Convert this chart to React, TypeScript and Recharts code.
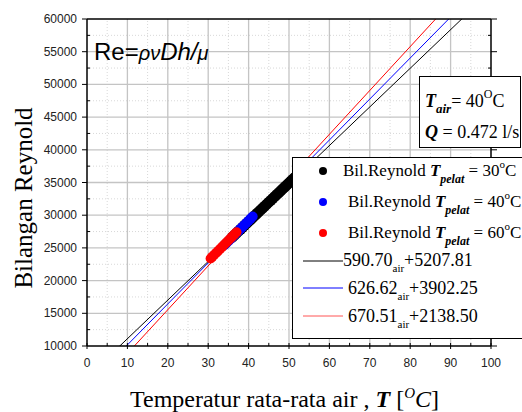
import React from "react";
import { ComposedChart, Scatter, Line, XAxis, YAxis, ReferenceLine } from "recharts";

const xTicks = [0, 5, 10, 15, 20, 25, 30, 35, 40, 45, 50, 55, 60, 65, 70, 75, 80, 85, 90, 95, 100];
const yTicks = [
  10000, 12500, 15000, 17500, 20000, 22500, 25000, 27500, 30000, 32500, 35000,
  37500, 40000, 42500, 45000, 47500, 50000, 52500, 55000, 57500, 60000,
];
const xGridMajor = [10, 20, 30, 40, 50, 60, 70, 80, 90];
const xGridMinor = [5, 15, 25, 35, 45, 55, 65, 75, 85, 95];
const yGridMajor = [15000, 20000, 25000, 30000, 35000, 40000, 45000, 50000, 55000];
const yGridMinor = [12500, 17500, 22500, 27500, 32500, 37500, 42500, 47500, 52500, 57500];

// measured points, T pelat = 30 / 40 / 60 C
const pelat30 = [
  { x: 36, y: 26650 }, { x: 36.5, y: 26950 }, { x: 37, y: 27250 }, { x: 37.5, y: 27550 },
  { x: 38, y: 27850 }, { x: 38.5, y: 28150 }, { x: 39, y: 28450 }, { x: 39.5, y: 28740 },
  { x: 40, y: 29040 }, { x: 40.5, y: 29330 }, { x: 41, y: 29630 }, { x: 41.5, y: 29920 },
  { x: 42, y: 30220 }, { x: 42.5, y: 30510 }, { x: 43, y: 30810 }, { x: 43.5, y: 31100 },
  { x: 44, y: 31400 }, { x: 44.5, y: 31690 }, { x: 45, y: 31990 }, { x: 45.5, y: 32280 },
  { x: 46, y: 32580 }, { x: 46.5, y: 32870 }, { x: 47, y: 33170 }, { x: 47.5, y: 33460 },
  { x: 48, y: 33760 }, { x: 48.5, y: 34050 }, { x: 49, y: 34350 }, { x: 49.5, y: 34640 },
  { x: 50, y: 34940 }, { x: 50.5, y: 35230 }, { x: 51, y: 35530 }, { x: 51.5, y: 35820 },
  { x: 52, y: 36120 }, { x: 52.5, y: 36420 }, { x: 53, y: 36720 },
];
const pelat40 = [
  { x: 34, y: 25400 }, { x: 34.5, y: 25710 }, { x: 35, y: 26030 }, { x: 35.5, y: 26340 },
  { x: 36, y: 26660 }, { x: 36.5, y: 26970 }, { x: 37, y: 27290 }, { x: 37.5, y: 27600 },
  { x: 38, y: 27910 }, { x: 38.5, y: 28220 }, { x: 39, y: 28540 }, { x: 39.5, y: 28850 },
  { x: 40, y: 29160 }, { x: 40.5, y: 29480 }, { x: 41, y: 29790 },
];
const pelat60 = [
  { x: 30.6, y: 23380 }, { x: 31, y: 23630 }, { x: 31.5, y: 23940 }, { x: 32, y: 24250 },
  { x: 32.5, y: 24570 }, { x: 33, y: 24880 }, { x: 33.5, y: 25190 }, { x: 34, y: 25510 },
  { x: 34.5, y: 25820 }, { x: 35, y: 26130 }, { x: 35.5, y: 26450 }, { x: 36, y: 26760 },
  { x: 36.5, y: 27070 }, { x: 37, y: 27390 },
];

// fitted lines evaluated at x = 0 and x = 100
const fit30 = [{ x: 0, y: 5207.81 }, { x: 100, y: 64277.81 }];
const fit40 = [{ x: 0, y: 3902.25 }, { x: 100, y: 66564.25 }];
const fit60 = [{ x: 0, y: 2138.5 }, { x: 100, y: 69189.5 }];

const serif = "'Liberation Serif', 'Times New Roman', serif";
const sans = "'Liberation Sans', Arial, sans-serif";

const BottomTick = ({ x, y, payload }: any) => {
  const major = payload.value % 10 === 0;
  return (
    <g>
      <line x1={x} x2={x} y1={y - 3} y2={major ? y + 3 : y} stroke="#000" />
      {major && (
        <text x={x} y={y + 21} textAnchor="middle" fontSize={12} fontFamily={sans} fill="#222">
          {payload.value}
        </text>
      )}
    </g>
  );
};

const TopTick = ({ x, y, payload }: any) => {
  const major = payload.value % 10 === 0;
  return <line x1={x} x2={x} y1={major ? y - 5 : y + 3} y2={y} stroke="#000" />;
};

const LeftTick = ({ x, y, payload }: any) => {
  const major = payload.value % 5000 === 0;
  return (
    <g>
      <line x1={major ? x - 5 : x + 3} x2={x} y1={y} y2={y} stroke="#000" />
      {major && (
        <text x={x - 10} y={y + 4} textAnchor="end" fontSize={12} fontFamily={sans} fill="#222">
          {payload.value}
        </text>
      )}
    </g>
  );
};

const RightTick = ({ x, y, payload }: any) => {
  const major = payload.value % 5000 === 0;
  return <line x1={major ? x + 6 : x - 3} x2={x} y1={y} y2={y} stroke="#000" />;
};

const dot = (color: string, r: number) => (p: any) => <circle cx={p.cx} cy={p.cy} r={r} fill={color} />;

export default function App() {
  return (
    <div style={{ position: "absolute", left: 0, top: 0, width: 522, height: 412, overflow: "hidden", background: "#fff" }}>
      <ComposedChart width={522} height={412} margin={{ top: 13, right: 25, bottom: 36, left: 27 }}>
        {xGridMinor.map((v) => (
          <ReferenceLine key={"xm" + v} x={v} stroke="#d8d8d8" strokeDasharray="1 2" />
        ))}
        {yGridMinor.map((v) => (
          <ReferenceLine key={"ym" + v} y={v} stroke="#d8d8d8" strokeDasharray="1 2" />
        ))}
        {xGridMajor.map((v) => (
          <ReferenceLine key={"xM" + v} x={v} stroke="#c4c4c4" strokeWidth={1.3} />
        ))}
        {yGridMajor.map((v) => (
          <ReferenceLine key={"yM" + v} y={v} stroke="#c4c4c4" strokeWidth={1.3} />
        ))}
        <XAxis
          type="number"
          dataKey="x"
          domain={[0, 100]}
          ticks={xTicks}
          interval={0}
          allowDataOverflow
          height={30}
          tickSize={0}
          tickMargin={0}
          tickLine={false}
          axisLine={{ stroke: "#000", strokeWidth: 1.5 }}
          tick={<BottomTick />}
        />
        <XAxis
          xAxisId="top"
          orientation="top"
          type="number"
          domain={[0, 100]}
          ticks={xTicks}
          interval={0}
          allowDataOverflow
          height={6}
          tickSize={0}
          tickMargin={0}
          tickLine={false}
          axisLine={{ stroke: "#000", strokeWidth: 1.5 }}
          tick={<TopTick />}
        />
        <YAxis
          type="number"
          dataKey="y"
          domain={[10000, 60000]}
          ticks={yTicks}
          interval={0}
          allowDataOverflow
          width={60}
          tickSize={0}
          tickMargin={0}
          tickLine={false}
          axisLine={{ stroke: "#000", strokeWidth: 1.5 }}
          tick={<LeftTick />}
        />
        <YAxis
          yAxisId="right"
          orientation="right"
          type="number"
          domain={[10000, 60000]}
          ticks={yTicks}
          interval={0}
          allowDataOverflow
          width={6}
          tickSize={0}
          tickMargin={0}
          tickLine={false}
          axisLine={{ stroke: "#000", strokeWidth: 1.5 }}
          tick={<RightTick />}
        />
        <Scatter data={pelat30} shape={dot("#000", 5.5)} isAnimationActive={false} />
        <Scatter data={pelat40} shape={dot("#0000ff", 5)} isAnimationActive={false} />
        <Scatter data={pelat60} shape={dot("#ff0000", 5)} isAnimationActive={false} />
        <Line data={fit30} dataKey="y" type="linear" stroke="#000" strokeWidth={1} dot={false} isAnimationActive={false} />
        <Line data={fit40} dataKey="y" type="linear" stroke="#0000ff" strokeWidth={1} dot={false} isAnimationActive={false} />
        <Line data={fit60} dataKey="y" type="linear" stroke="#ff0000" strokeWidth={1} dot={false} isAnimationActive={false} />
      </ComposedChart>

      <svg width={522} height={412} style={{ position: "absolute", left: 0, top: 0, pointerEvents: "none" }}>
        <text x={94} y={60} fontFamily={sans} fontSize={24} fill="#000">
          Re=
          <tspan fontStyle="italic" fontSize={20}>ρν</tspan>
          <tspan fontStyle="italic" fontSize={24}>Dh/</tspan>
          <tspan fontStyle="italic" fontSize={20}>μ</tspan>
        </text>

        <rect x={419.5} y={76.5} width={101} height={71} fill="#fff" stroke="#000" />
        <text x={425} y={107} fontFamily={serif} fontSize={18} fill="#000">
          <tspan fontWeight="bold" fontStyle="italic">T</tspan>
          <tspan fontWeight="bold" fontStyle="italic" fontSize={13} dy={6}>air</tspan>
          <tspan dy={-6}>= 40</tspan>
          <tspan fontSize={12} dy={-9}>O</tspan>
          <tspan dy={9}>C</tspan>
        </text>
        <text x={425} y={138} fontFamily={serif} fontSize={18} fill="#000">
          <tspan fontWeight="bold" fontStyle="italic">Q</tspan>
          <tspan> = 0.472 l/s</tspan>
        </text>

        <rect x={292.5} y={157.5} width={240} height={181} fill="#fff" stroke="#000" />
        <circle cx={323} cy={171} r={4} fill="#000" />
        <text x={343} y={176} fontFamily={serif} fontSize={17} fill="#000">
          Bil.Reynold <tspan fontWeight="bold" fontStyle="italic">T</tspan>
          <tspan fontWeight="bold" fontStyle="italic" fontSize={12} dy={7}>pelat</tspan>
          <tspan dy={-7}> = 30</tspan>
          <tspan fontSize={11} dy={-8}>o</tspan>
          <tspan dy={8}>C</tspan>
        </text>
        <circle cx={323} cy={202} r={4} fill="#0000ff" />
        <text x={348} y={207} fontFamily={serif} fontSize={17} fill="#000">
          Bil.Reynold <tspan fontWeight="bold" fontStyle="italic">T</tspan>
          <tspan fontWeight="bold" fontStyle="italic" fontSize={12} dy={7}>pelat</tspan>
          <tspan dy={-7}> = 40</tspan>
          <tspan fontSize={11} dy={-8}>o</tspan>
          <tspan dy={8}>C</tspan>
        </text>
        <circle cx={323} cy={233} r={4} fill="#ff0000" />
        <text x={348} y={238} fontFamily={serif} fontSize={17} fill="#000">
          Bil.Reynold <tspan fontWeight="bold" fontStyle="italic">T</tspan>
          <tspan fontWeight="bold" fontStyle="italic" fontSize={12} dy={7}>pelat</tspan>
          <tspan dy={-7}> = 60</tspan>
          <tspan fontSize={11} dy={-8}>o</tspan>
          <tspan dy={8}>C</tspan>
        </text>
        <line x1={303} x2={343} y1={261} y2={261} stroke="#000" />
        <text x={343} y={266} fontFamily={serif} fontSize={18} fill="#000">
          590.70<tspan fontSize={11} dy={6}>air</tspan>
          <tspan dy={-6}>+5207.81</tspan>
        </text>
        <line x1={303} x2={343} y1={288} y2={288} stroke="#0000ff" />
        <text x={348} y={294} fontFamily={serif} fontSize={18} fill="#000">
          626.62<tspan fontSize={11} dy={6}>air</tspan>
          <tspan dy={-6}>+3902.25</tspan>
        </text>
        <line x1={303} x2={343} y1={316} y2={316} stroke="#ff5555" />
        <text x={348} y={322} fontFamily={serif} fontSize={18} fill="#000">
          670.51<tspan fontSize={11} dy={6}>air</tspan>
          <tspan dy={-6}>+2138.50</tspan>
        </text>

        <text x={130} y={407} fontFamily={serif} fontSize={24} fill="#000">
          Temperatur rata-rata air , <tspan fontWeight="bold" fontStyle="italic">T</tspan> [
          <tspan fontStyle="italic" fontSize={15} dy={-9}>O</tspan>
          <tspan fontStyle="italic" dy={9}>C</tspan>]
        </text>
        <text transform="translate(32,198) rotate(-90)" textAnchor="middle" fontFamily={serif} fontSize={25} fill="#000">
          Bilangan Reynold
        </text>
      </svg>
    </div>
  );
}
